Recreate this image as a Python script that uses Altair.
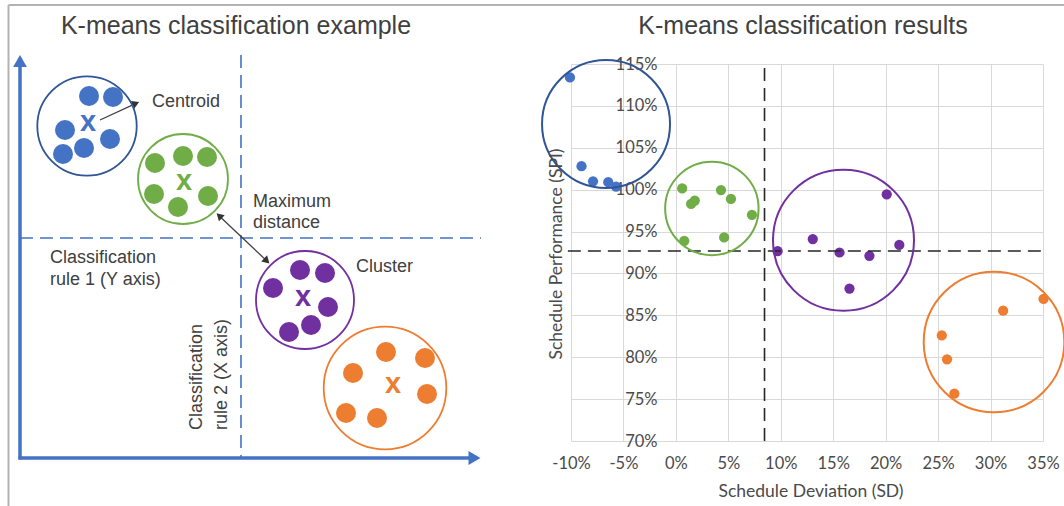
import altair as alt
import pandas as pd

# ---------------- Right panel: K-means classification results ----------------
blue_sd = [-10.1, -9.0, -7.9, -6.45, -5.7]
blue_spi = [113.4, 102.8, 101.0, 100.9, 100.35]
green_sd = [0.6, 1.45, 1.8, 4.3, 5.25, 7.25, 0.8, 4.6]
green_spi = [100.15, 98.3, 98.7, 99.95, 98.9, 97.0, 93.9, 94.3]
purple_sd = [9.7, 13.05, 15.6, 18.45, 20.1, 21.3, 16.55]
purple_spi = [92.65, 94.1, 92.5, 92.1, 99.45, 93.4, 88.2]
orange_sd = [25.35, 25.85, 26.55, 31.2, 35.05]
orange_spi = [82.6, 79.75, 75.65, 85.55, 86.95]

cluster_names = ["blue", "green", "purple", "orange"]
cluster_center_sd = [-6.66, 3.43, 15.98, 30.33]
cluster_center_spi = [107.84, 97.76, 93.96, 81.82]

x_ticks = [-10, -5, 0, 5, 10, 15, 20, 25, 30, 35]
y_ticks = [70, 75, 80, 85, 90, 95, 100, 105, 110, 115]
cut_sd = 8.45
cut_spi = 92.68

# ---------------- Left panel: schematic example (diagram units) ----------------
ex_blue_x = [89, 113, 65, 110, 84, 63]
ex_blue_y = [96, 97, 130, 139, 148, 154]
ex_green_x = [155, 183, 207, 154, 208, 178]
ex_green_y = [163, 156, 157, 194, 196, 207]
ex_purple_x = [300, 325, 273, 328, 311, 289]
ex_purple_y = [270, 273, 288, 307, 325, 332]
ex_orange_x = [386, 425, 353, 427, 346, 377]
ex_orange_y = [352, 358, 373, 394, 413, 418]
ex_centroid_x = [88, 184, 303, 393]
ex_centroid_y = [123, 182, 298, 385]
ex_circle_x = [87, 183, 305, 385]
ex_circle_y = [126, 179, 300, 388]

labels_text = ["Centroid", "Maximum", "distance", "Cluster", "Classification", "rule 1 (Y axis)"]
labels_x = [152, 253, 253, 356, 50, 50]
labels_y = [102, 202, 223, 267, 258, 280]
rot_text = ["Classification", "rule 2 (X axis)"]
rot_x = [197, 222]
rot_y = [430, 430]

titles = ["K-means classification example", "K-means classification results"]
titles_x = [236, 803]
titles_y = [34, 34]

COL = {"blue": "#4472C4", "green": "#70AD47", "purple": "#7030A0", "orange": "#ED7D31"}
RING = {"blue": "#2F5597", "green": "#70AD47", "purple": "#7030A0", "orange": "#ED7D31"}
ring_right_r = {"blue": 64, "green": 46.7, "purple": 70.5, "orange": 70.3}
ring_left_r = {"blue": 49.7, "green": 45, "purple": 49, "orange": 61.3}

# ---------------- scales ----------------
W, H = 472, 377
PL, PT = 571, 64
PX = alt.Scale(domain=[PL, PL + W], nice=False, zero=False)
PY = alt.Scale(domain=[PT, PT + H], nice=False, zero=False, reverse=True)
DX = alt.Scale(domain=[-10, 35], nice=False, zero=False)
DY = alt.Scale(domain=[70, 115], nice=False, zero=False)

LABEL_COLOR = "#4a4a4a"

x_axis = alt.Axis(values=x_ticks, labelExpr="datum.value + '%'", grid=True, gridColor="#d9d9d9",
                  gridWidth=1, domain=False, ticks=False, tickSize=0, labelFont="Lato",
                  labelFontSize=16.5, labelColor=LABEL_COLOR, labelPadding=14, title=None,
                  labelFlush=False, labelOverlap=False)
y_axis = alt.Axis(values=y_ticks, labelExpr="datum.value + '%'", grid=True, gridColor="#d9d9d9",
                  gridWidth=1, domain=False, ticks=False, tickSize=0, labelFont="Lato",
                  labelFontSize=16.5, labelColor=LABEL_COLOR, labelPadding=19, title=None,
                  offset=-105, labelFlush=False, labelOverlap=False, labelBaseline="middle")

XD = lambda f: alt.X(f, type="quantitative", scale=DX, axis=x_axis)
YD = lambda f: alt.Y(f, type="quantitative", scale=DY, axis=y_axis)
XP = lambda f: alt.X(f, type="quantitative", scale=PX, axis=None)
YP = lambda f: alt.Y(f, type="quantitative", scale=PY, axis=None)

# ---------------- right panel layers ----------------
pts = []
for name, xs, ys in [("blue", blue_sd, blue_spi), ("green", green_sd, green_spi),
                     ("purple", purple_sd, purple_spi), ("orange", orange_sd, orange_spi)]:
    for a, b in zip(xs, ys):
        pts.append({"sd": a, "spi": b, "c": name})
pts_df = pd.DataFrame(pts)

cl_df = pd.DataFrame({"sd": cluster_center_sd, "spi": cluster_center_spi, "c": cluster_names})

color_pts = alt.Color("c:N", scale=alt.Scale(domain=list(COL), range=list(COL.values())), legend=None)

dots_right = alt.Chart(pts_df).mark_circle(size=105, opacity=1).encode(
    x=XD("sd"), y=YD("spi"), color=color_pts)

rings_right = alt.layer(*[
    alt.Chart(cl_df[cl_df.c == n]).mark_point(shape="circle", filled=False, size=(2 * ring_right_r[n]) ** 2,
                                              strokeWidth=2, color=RING[n], opacity=1)
    .encode(x=XD("sd"), y=YD("spi")) for n in cluster_names])

vcut = alt.Chart(pd.DataFrame({"sd": [cut_sd], "y1": [70], "y2": [115.2]})).mark_rule(
    color="#262626", strokeWidth=1.6, strokeDash=[13, 7]).encode(x=XD("sd"), y=YD("y1"), y2="y2")
hcut = alt.Chart(pd.DataFrame({"spi": [cut_spi], "x1": [-10.3], "x2": [35.3]})).mark_rule(
    color="#262626", strokeWidth=1.6, strokeDash=[13, 7]).encode(y=YD("spi"), x=XD("x1"), x2="x2")

right = alt.layer(dots_right, vcut, hcut, rings_right)

# ---------------- left panel / page layers ----------------
def rule_df(x1, y1, x2, y2):
    return pd.DataFrame({"x": x1, "y": y1, "x2": x2, "y2": y2})

frame = alt.Chart(rule_df([8.5, 8.5], [5, 5], [8.5, 1064], [506, 5])).mark_rule(
    color="#b3b3b3", strokeWidth=2).encode(x=XP("x"), y=YP("y"), x2="x2", y2="y2")

dash_blue = alt.Chart(rule_df([241, 20], [55, 238], [241, 481], [459, 238])).mark_rule(
    color="#4472C4", strokeWidth=1.6, strokeDash=[13, 7]).encode(x=XP("x"), y=YP("y"), x2="x2", y2="y2")

axes_blue = alt.Chart(rule_df([20, 18.5], [459.5, 458], [20, 472], [62, 458])).mark_rule(
    color="#4472C4", strokeWidth=3.5).encode(x=XP("x"), y=YP("y"), x2="x2", y2="y2")

heads_df = pd.DataFrame({"x": [20, 474.5], "y": [61, 458], "a": [0, 90]})
axes_heads = alt.Chart(heads_df).mark_point(shape="triangle-up", filled=True, size=190, color="#4472C4",
                                            opacity=1).encode(x=XP("x"), y=YP("y"), angle=alt.Angle("a:Q", scale=None))

ex_pts = []
for name, xs, ys in [("blue", ex_blue_x, ex_blue_y), ("green", ex_green_x, ex_green_y),
                     ("purple", ex_purple_x, ex_purple_y), ("orange", ex_orange_x, ex_orange_y)]:
    for a, b in zip(xs, ys):
        ex_pts.append({"x": a, "y": b, "c": name})
ex_df = pd.DataFrame(ex_pts)
ex_dots = alt.Chart(ex_df).mark_circle(size=400, opacity=1).encode(x=XP("x"), y=YP("y"), color=color_pts)

ex_ring_df = pd.DataFrame({"x": ex_circle_x, "y": ex_circle_y, "c": cluster_names})
ex_rings = alt.layer(*[
    alt.Chart(ex_ring_df[ex_ring_df.c == n]).mark_point(shape="circle", filled=False,
                                                        size=(2 * ring_left_r[n]) ** 2,
                                                        strokeWidth=1.8, color=RING[n], opacity=1)
    .encode(x=XP("x"), y=YP("y")) for n in cluster_names])

ex_x_df = pd.DataFrame({"x": ex_centroid_x, "y": ex_centroid_y, "c": cluster_names, "t": ["x"] * 4})
ex_x = alt.Chart(ex_x_df).mark_text(font="Liberation Sans", fontSize=29, fontWeight="bold",
                                    baseline="middle", dy=-1).encode(
    x=XP("x"), y=YP("y"), text="t:N", color=color_pts)

arrows = alt.Chart(rule_df([100, 219], [120, 215.7], [136, 266.8], [103.4, 260.9])).mark_rule(
    color="#404040", strokeWidth=1.3).encode(x=XP("x"), y=YP("y"), x2="x2", y2="y2")
arrow_heads_df = pd.DataFrame({"x": [135.8, 266.8, 219.2], "y": [103.4, 260.9, 215.7],
                               "a": [66, 133.6, 313.6]})
arrow_heads = alt.Chart(arrow_heads_df).mark_point(shape="triangle-up", filled=True, size=70,
                                                   color="#333333", opacity=1).encode(
    x=XP("x"), y=YP("y"), angle=alt.Angle("a:Q", scale=None))

lab_df = pd.DataFrame({"x": labels_x, "y": labels_y, "t": labels_text})
labs = alt.Chart(lab_df).mark_text(font="Liberation Sans", fontSize=18, color="#404040", align="left",
                                   baseline="middle").encode(x=XP("x"), y=YP("y"), text="t:N")
rot_df = pd.DataFrame({"x": rot_x, "y": rot_y, "t": rot_text})
rot_labs = alt.Chart(rot_df).mark_text(font="Liberation Sans", fontSize=18, color="#404040", align="left",
                                       baseline="middle", angle=270).encode(x=XP("x"), y=YP("y"), text="t:N")

tt_df = pd.DataFrame({"x": titles_x, "y": titles_y, "t": titles})
tts = alt.Chart(tt_df).mark_text(font="Liberation Sans", fontSize=25, color="#404040", align="center",
                                 baseline="alphabetic").encode(x=XP("x"), y=YP("y"), text="t:N")

ax_t_df = pd.DataFrame({"x": [811], "y": [492], "t": ["Schedule Deviation (SD)"]})
ax_t = alt.Chart(ax_t_df).mark_text(font="Lato", fontSize=17.5, color=LABEL_COLOR, align="center",
                                    baseline="middle").encode(x=XP("x"), y=YP("y"), text="t:N")
ay_t_df = pd.DataFrame({"x": [557], "y": [254], "t": ["Schedule Performance (SPI)"]})
ay_t = alt.Chart(ay_t_df).mark_text(font="Lato", fontSize=17.5, color=LABEL_COLOR, align="center",
                                    baseline="middle", angle=270).encode(x=XP("x"), y=YP("y"), text="t:N")

page = alt.layer(frame, dash_blue, axes_blue, axes_heads, arrows, arrow_heads, ex_rings, ex_dots, ex_x,
                 labs, rot_labs, tts, ax_t, ay_t)

chart = alt.layer(right, page).resolve_scale(x="independent", y="independent", color="independent").properties(
    width=W, height=H,
    autosize=alt.AutoSizeParams(type="none"),
    padding={"left": PL, "top": PT, "right": 1064 - PL - W, "bottom": 506 - PT - H},
    background="white",
).configure_view(stroke=None)

chart.save("out.html", embed_options={"renderer": "svg", "actions": False})
